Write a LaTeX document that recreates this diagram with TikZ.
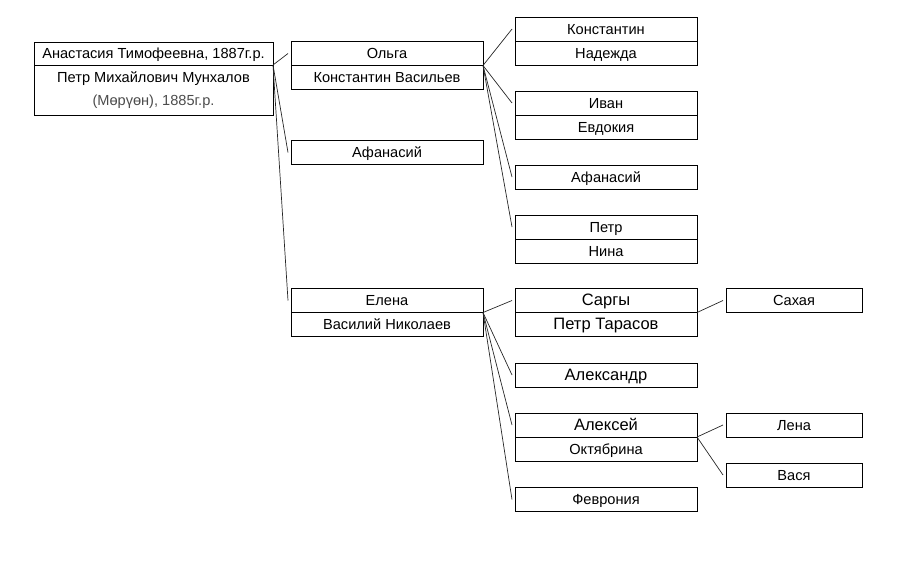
\documentclass[tikz,border=0pt]{standalone}
\usepackage{fontspec}
\setmainfont{Liberation Sans}
\usetikzlibrary{positioning}
\tikzset{
  cell/.style      = {draw, line width=0.7pt, minimum height=24pt, inner sep=2pt,
                      outer sep=0pt, align=center, text height=10.5pt, text depth=0pt,
                      font=\fontsize{14.6}{23}\selectfont},
  rootcell/.style  = {cell, minimum width=239pt},
  kidcell/.style   = {cell, minimum width=192pt},
  gkidcell/.style  = {cell, minimum width=182pt},
  ggkidcell/.style = {cell, minimum width=136pt},
  big/.style       = {font=\fontsize{16.5}{19}\selectfont},
  link/.style      = {line width=0.7pt, draw=black!85}
}

\begin{document}
\begin{tikzpicture}[x=1pt, y=-1pt]
\useasboundingbox (0,0) rectangle (902,560);
% Root couple
\node[rootcell, minimum height=23pt] (root) at (153.5,53.5) {Анастасия Тимофеевна, 1887г.р.};
\node[rootcell, minimum height=50pt, text height=, text depth=, below=0pt of root] (rootb)
  {Петр Михайлович Мунхалов\\{\color{black!70}(Мөрүөн), 1885г.р.}};

% Children
\node[kidcell] (olga) at (387,53.5) {Ольга};
\node[kidcell, below=0pt of olga] (olgab) {Константин Васильев};
\node[kidcell] (afan) at (387,152.5) {Афанасий};
\node[kidcell] (elena) at (387,300.5) {Елена};
\node[kidcell, below=0pt of elena] (elenab) {Василий Николаев};

% Grandchildren of Olga
\node[gkidcell] (konst) at (606,29) {Константин};
\node[gkidcell, below=0pt of konst] (konstb) {Надежда};
\node[gkidcell] (ivan) at (606,103) {Иван};
\node[gkidcell, below=0pt of ivan] (ivanb) {Евдокия};
\node[gkidcell] (afan2) at (606,177) {Афанасий};
\node[gkidcell] (petr) at (606,227) {Петр};
\node[gkidcell, below=0pt of petr] (petrb) {Нина};

% Grandchildren of Elena
\node[gkidcell, big] (sargy) at (606,300.5) {Саргы};
\node[gkidcell, big, below=0pt of sargy] (sargyb) {Петр Тарасов};
\node[gkidcell, big] (alexr) at (606,375) {Александр};
\node[gkidcell, big] (alexei) at (606,425) {Алексей};
\node[gkidcell, below=0pt of alexei] (alexeib) {Октябрина};
\node[gkidcell] (fevr) at (606,499.5) {Феврония};

% Great-grandchildren
\node[ggkidcell] (sakh) at (794,300.5) {Сахая};
\node[ggkidcell] (lena) at (794,425) {Лена};
\node[ggkidcell] (vasya) at (794,475) {Вася};

% Links
\foreach \kid in {olga, afan, elena}
  \draw[link] (root.south east) -- ([xshift=-3pt]\kid.west);
\foreach \kid in {konst, ivan, afan2, petr}
  \draw[link] (olga.south east) -- ([xshift=-3pt]\kid.west);
\foreach \kid in {sargy, alexr, alexei, fevr}
  \draw[link] (elena.south east) -- ([xshift=-3pt]\kid.west);
\draw[link] (sargy.south east) -- ([xshift=-3pt]sakh.west);
\foreach \kid in {lena, vasya}
  \draw[link] (alexei.south east) -- ([xshift=-3pt]\kid.west);
\end{tikzpicture}
\end{document}
